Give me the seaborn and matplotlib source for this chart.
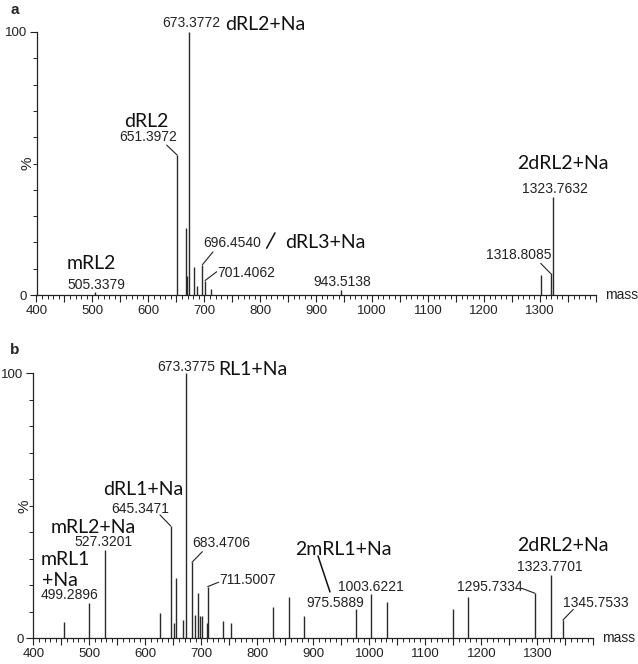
import seaborn as sns
import matplotlib.pyplot as plt
from matplotlib.ticker import MultipleLocator, FuncFormatter

# panel a: m/z and relative intensity (%)
mass_a = [505.3379, 651.3972, 667.4, 669.4, 673.3772, 681.1, 687.2, 696.4540,
          701.4062, 712.2, 943.5138, 1301.8, 1318.8085, 1323.7632]
int_a = [1.2, 53.2, 25.4, 7.2, 100, 10.8, 3.4, 11.5, 5.5, 2.2, 2.0, 7.6, 8.2, 37.4]

# panel b
mass_b = [455.1, 499.2896, 527.3201, 626.8, 645.3471, 650.7, 654.8, 666.8, 673.3775,
          683.4706, 688.8, 694.7, 697.7, 700.7, 709.6, 711.5007, 738.2, 752.5, 828.6,
          856.6, 884.0, 975.5889, 1003.6221, 1031.0, 1148.9, 1176.8, 1295.7334,
          1323.7701, 1345.7533]
int_b = [6.3, 13.2, 33.3, 9.7, 42.4, 5.9, 22.6, 6.9, 100, 28.7, 8.8, 17.0, 8.4, 8.4,
         5.6, 19.5, 6.5, 5.6, 11.7, 15.5, 8.5, 10.9, 16.7, 13.6, 10.9, 15.7, 17.0,
         23.9, 6.9]

x_ticks = list(range(400, 1400, 100))

# labelled peaks: mass, label offset (px), leader start offset (px) or None
num_a = [(505.3379, 1.3, 6.8, None), (651.3972, -28.7, 18, (-10.5, 10)),
         (673.3772, 1.6, 9, None), (696.4540, 30.1, 21.5, (10.6, 12.8)),
         (701.4062, 40.9, 7.2, (11.6, 8.8)), (943.5138, 1.2, 8, None),
         (1318.8085, -31.9, 18.4, (-9.9, 10.1)), (1323.7632, 1.4, 7.7, None)]
names_a = [(673.3772, 'dRL2+Na', 35.6, 7, 'left'), (651.3972, 'dRL2', -30.5, 33.3, 'center'),
           (505.3379, 'mRL2', -3.7, 28.5, 'center'), (1323.7632, '2dRL2+Na', 9.2, 32.7, 'center')]
# free leaders: end point (data), start offset, name, name offset
free_a = [(811.4, 17.8, (8.3, 15.3), 'dRL3+Na', 58.3, 5.3)]

num_b = [(499.2896, -19.7, 8.3, None), (527.3201, -0.8, 7.7, None),
         (645.3471, -30.2, 17, (-10.7, 11)), (673.3775, -0.6, 6.6, None),
         (683.4706, 28.8, 19, (10.3, 10.6)), (711.5007, 39.7, 6.7, (10.8, 4.4)),
         (975.5889, -20.8, 6.2, None), (1003.6221, -0.5, 7.3, None),
         (1295.7334, -45.5, 6.6, (-13.3, 5)), (1323.7701, -1, 7.7, None),
         (1345.7533, 32.9, 17.3, (10.4, 10.7))]
names_b = [(673.3775, 'RL1+Na', 31.9, 3.3, 'left'), (645.3471, 'dRL1+Na', -27.4, 36, 'center'),
           (527.3201, 'mRL2+Na', -11.3, 22.3, 'center'), (499.2896, 'mRL1', -48.2, 44, 'left'),
           (499.2896, '+Na', -47.2, 23.3, 'left'), (1323.7701, '2dRL2+Na', 12, 29, 'center')]
free_b = [(929.8, 17.5, (-12, 36), '2mRL1+Na', 13.3, 42)]

sns.set_theme(style='ticks')
plt.rcParams['font.family'] = ['Liberation Sans', 'DejaVu Sans']

INK = '#222222'
NUM_FS = 10
NAME_FS = 14
NAME_FONT = ['Lato', 'DejaVu Sans']


def draw_panel(ax, mass, inten, nums, names, free):
    lookup = dict(zip(mass, inten))
    ax.vlines(mass, 0, inten, color='#2a2a2a', lw=1.0)
    ax.set_xlim(400, 1400)
    ax.set_ylim(0, 100)
    sns.despine(ax=ax)
    ax.spines['left'].set_bounds(0, 100)
    for s in ('left', 'bottom'):
        ax.spines[s].set_color(INK)
        ax.spines[s].set_linewidth(0.9)
    ax.xaxis.set_major_locator(MultipleLocator(50))
    ax.xaxis.set_minor_locator(MultipleLocator(10))
    ax.xaxis.set_major_formatter(FuncFormatter(
        lambda v, p: f'{int(v)}' if int(v) in x_ticks else ''))
    ax.set_yticks([0, 100])
    ax.yaxis.set_minor_locator(MultipleLocator(10))
    ax.tick_params(axis='both', which='major', length=5, width=0.8, color=INK,
                   labelsize=9.5, labelcolor=INK, pad=2)
    ax.tick_params(axis='both', which='minor', length=3, width=0.7, color=INK)
    ax.set_ylabel('%', fontsize=11, color=INK)
    ax.yaxis.set_label_coords(-0.004, 0.5)
    ax.text(1.016, 0, 'mass', transform=ax.transAxes, va='center', ha='left',
            fontsize=10, color=INK)
    ax.patch.set_alpha(0)

    for m, dx, dy, lead in nums:
        p = lookup[m]
        ax.annotate(f'{m:.4f}', xy=(m, p), xytext=(dx, dy), textcoords='offset pixels',
                    ha='center', va='center', fontsize=NUM_FS, color=INK)
        if lead is not None:
            ax.annotate('', xy=(m, p), xytext=lead, textcoords='offset pixels',
                        arrowprops=dict(arrowstyle='-', color=INK, lw=0.8,
                                        shrinkA=0, shrinkB=0))
    for m, name, dx, dy, ha in names:
        ax.annotate(name, xy=(m, lookup[m]), xytext=(dx, dy), textcoords='offset pixels',
                    ha=ha, va='center', fontsize=NAME_FS, color='#111111',
                    family=NAME_FONT)
    for m, p, lead, name, dx, dy in free:
        ax.annotate('', xy=(m, p), xytext=lead, textcoords='offset pixels',
                    arrowprops=dict(arrowstyle='-', color='#111111', lw=1.1,
                                    shrinkA=0, shrinkB=0))
        ax.annotate(name, xy=(m, p), xytext=(dx, dy), textcoords='offset pixels',
                    ha='center', va='center', fontsize=NAME_FS, color='#111111',
                    family=NAME_FONT)


W, H = 638, 664
fig = plt.figure(figsize=(W / 100, H / 100), dpi=100)
ax_a = fig.add_axes([36.5 / W, (H - 295) / H, 559.5 / W, 263 / H])
ax_b = fig.add_axes([33.3 / W, (H - 638.3) / H, 560 / W, 265 / H])

draw_panel(ax_a, mass_a, int_a, num_a, names_a, free_a)
draw_panel(ax_b, mass_b, int_b, num_b, names_b, free_b)

fig.text(15 / W, 1 - 10 / H, 'a', fontweight='bold', fontsize=11, va='center', ha='center')
fig.text(15 / W, 1 - 350 / H, 'b', fontweight='bold', fontsize=11, va='center', ha='center')

fig.savefig('out.png', dpi=100, facecolor='white')
